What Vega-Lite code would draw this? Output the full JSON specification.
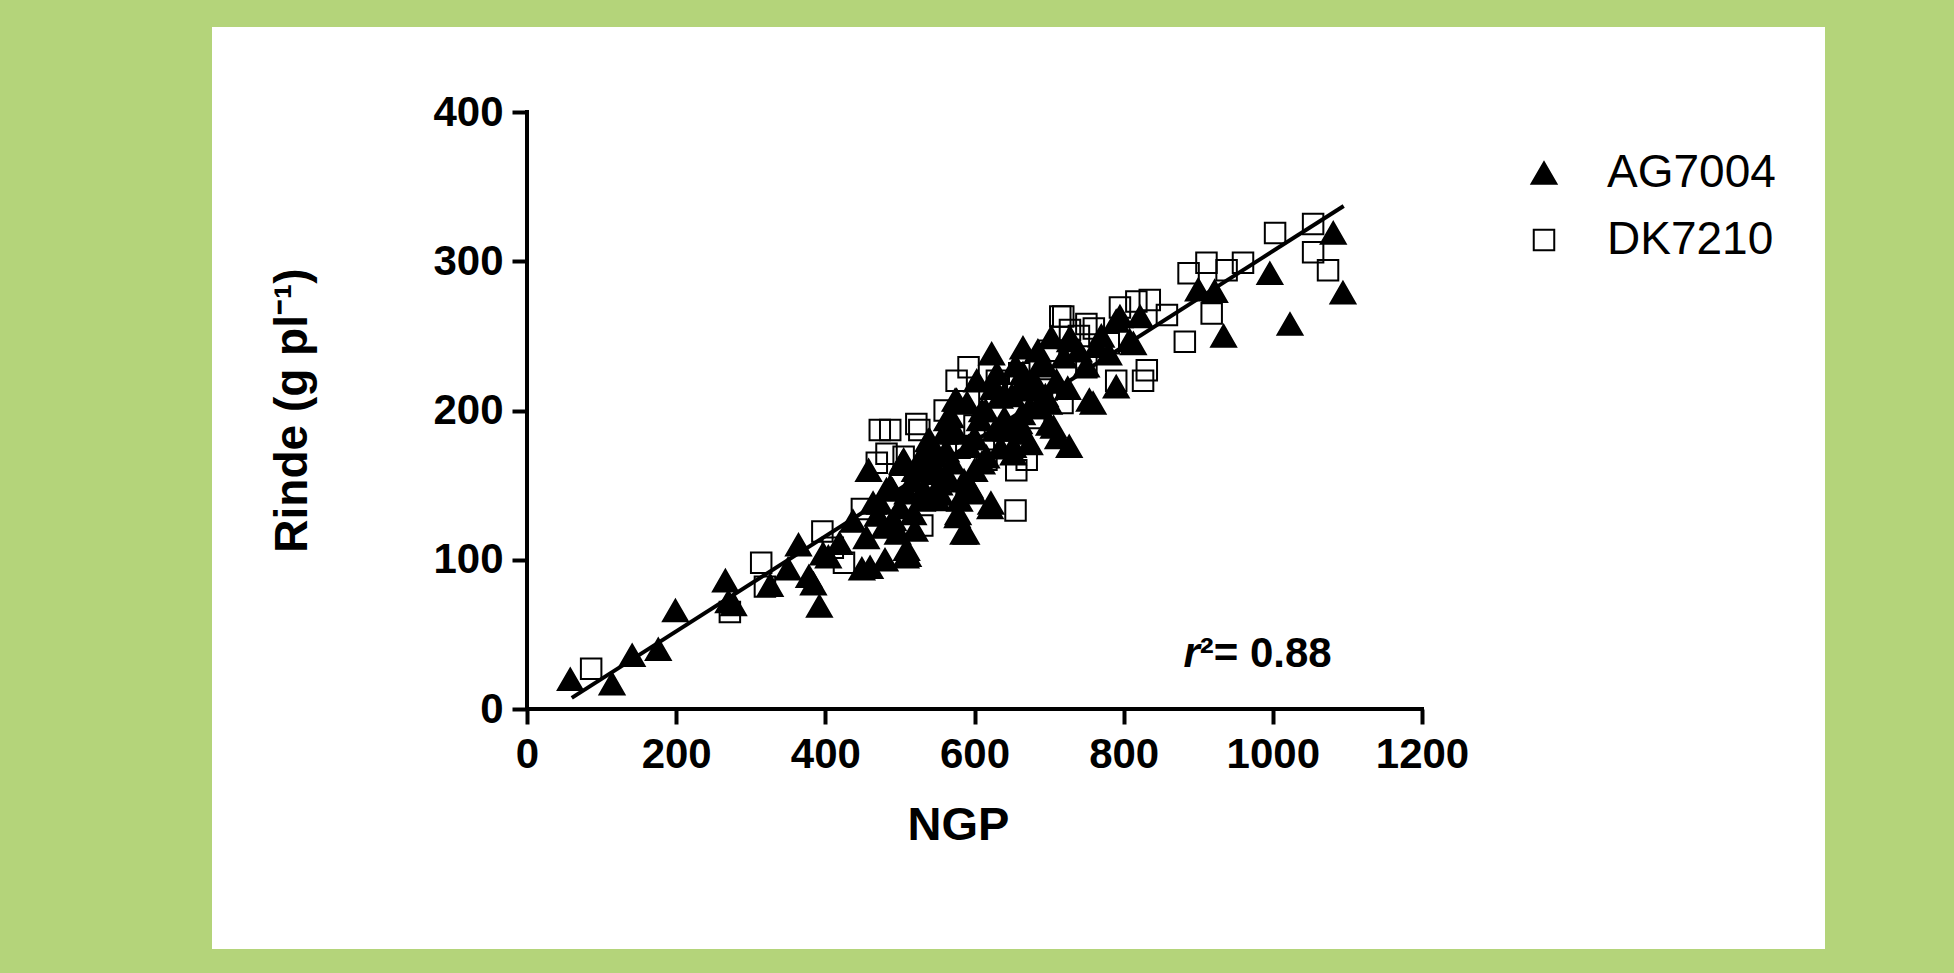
{
  "$schema": "https://vega.github.io/schema/vega-lite/v6.json",
  "width": 1613,
  "height": 922,
  "autosize": {"type": "none"},
  "padding": {"left": 212, "top": 27, "right": 129, "bottom": 24},
  "background": "#b4d47a",
  "config": {
    "view": {"fill": "white", "stroke": null},
    "font": "Liberation Sans",
    "legend": {"title": null, "orient": "none", "legendX": 1309, "legendY": 123,
               "labelFont": "Liberation Sans", "labelFontSize": 46, "labelColor": "black", "labelLimit": 0,
               "labelOffset": 40, "rowPadding": 21, "symbolStrokeWidth": 2}
  },
  "datasets": {
    "pts": [
      {"Hibrido":"DK7210","NGP":86,"Rinde":27},{"Hibrido":"DK7210","NGP":272,"Rinde":65},{"Hibrido":"DK7210","NGP":314,"Rinde":98},{"Hibrido":"DK7210","NGP":319,"Rinde":82},{"Hibrido":"DK7210","NGP":396,"Rinde":119},{"Hibrido":"DK7210","NGP":410,"Rinde":108},{"Hibrido":"DK7210","NGP":425,"Rinde":98},{"Hibrido":"DK7210","NGP":449,"Rinde":134},{"Hibrido":"DK7210","NGP":469,"Rinde":165},{"Hibrido":"DK7210","NGP":473,"Rinde":187},{"Hibrido":"DK7210","NGP":482,"Rinde":171},{"Hibrido":"DK7210","NGP":487,"Rinde":187},{"Hibrido":"DK7210","NGP":505,"Rinde":169},{"Hibrido":"DK7210","NGP":522,"Rinde":191},{"Hibrido":"DK7210","NGP":526,"Rinde":187},{"Hibrido":"DK7210","NGP":530,"Rinde":123},{"Hibrido":"DK7210","NGP":538,"Rinde":147},{"Hibrido":"DK7210","NGP":562,"Rinde":140},{"Hibrido":"DK7210","NGP":576,"Rinde":220},{"Hibrido":"DK7210","NGP":589,"Rinde":176},{"Hibrido":"DK7210","NGP":592,"Rinde":229},{"Hibrido":"DK7210","NGP":616,"Rinde":167},{"Hibrido":"DK7210","NGP":630,"Rinde":220},{"Hibrido":"DK7210","NGP":655,"Rinde":133},{"Hibrido":"DK7210","NGP":656,"Rinde":160},{"Hibrido":"DK7210","NGP":670,"Rinde":167},{"Hibrido":"DK7210","NGP":697,"Rinde":214},{"Hibrido":"DK7210","NGP":715,"Rinde":263},{"Hibrido":"DK7210","NGP":718,"Rinde":205},{"Hibrido":"DK7210","NGP":728,"Rinde":254},{"Hibrido":"DK7210","NGP":750,"Rinde":258},{"Hibrido":"DK7210","NGP":750,"Rinde":229},{"Hibrido":"DK7210","NGP":790,"Rinde":220},{"Hibrido":"DK7210","NGP":795,"Rinde":269},{"Hibrido":"DK7210","NGP":817,"Rinde":273},{"Hibrido":"DK7210","NGP":826,"Rinde":220},{"Hibrido":"DK7210","NGP":831,"Rinde":227},{"Hibrido":"DK7210","NGP":835,"Rinde":274},{"Hibrido":"DK7210","NGP":858,"Rinde":264},{"Hibrido":"DK7210","NGP":882,"Rinde":246},{"Hibrido":"DK7210","NGP":887,"Rinde":292},{"Hibrido":"DK7210","NGP":911,"Rinde":299},{"Hibrido":"DK7210","NGP":918,"Rinde":265},{"Hibrido":"DK7210","NGP":938,"Rinde":294},{"Hibrido":"DK7210","NGP":960,"Rinde":299},{"Hibrido":"DK7210","NGP":1003,"Rinde":319},{"Hibrido":"DK7210","NGP":1054,"Rinde":325},{"Hibrido":"DK7210","NGP":1054,"Rinde":306},{"Hibrido":"DK7210","NGP":1074,"Rinde":294},{"Hibrido":"DK7210","NGP":719,"Rinde":263},{"Hibrido":"DK7210","NGP":740,"Rinde":250},{"Hibrido":"DK7210","NGP":760,"Rinde":255},{"Hibrido":"DK7210","NGP":780,"Rinde":245},{"Hibrido":"DK7210","NGP":560,"Rinde":200},{"Hibrido":"DK7210","NGP":600,"Rinde":190},{"Hibrido":"DK7210","NGP":640,"Rinde":180},{"Hibrido":"DK7210","NGP":680,"Rinde":195},{"Hibrido":"DK7210","NGP":620,"Rinde":210},{"Hibrido":"DK7210","NGP":660,"Rinde":225},{"Hibrido":"DK7210","NGP":700,"Rinde":240},{"Hibrido":"DK7210","NGP":580,"Rinde":175},{"Hibrido":"DK7210","NGP":540,"Rinde":160},{"Hibrido":"DK7210","NGP":500,"Rinde":150},
      {"Hibrido":"AG7004","NGP":58,"Rinde":20},{"Hibrido":"AG7004","NGP":114,"Rinde":17},{"Hibrido":"AG7004","NGP":141,"Rinde":36},{"Hibrido":"AG7004","NGP":176,"Rinde":40},{"Hibrido":"AG7004","NGP":199,"Rinde":66},{"Hibrido":"AG7004","NGP":266,"Rinde":86},{"Hibrido":"AG7004","NGP":270,"Rinde":72},{"Hibrido":"AG7004","NGP":277,"Rinde":70},{"Hibrido":"AG7004","NGP":326,"Rinde":83},{"Hibrido":"AG7004","NGP":350,"Rinde":94},{"Hibrido":"AG7004","NGP":364,"Rinde":110},{"Hibrido":"AG7004","NGP":378,"Rinde":89},{"Hibrido":"AG7004","NGP":384,"Rinde":84},{"Hibrido":"AG7004","NGP":392,"Rinde":69},{"Hibrido":"AG7004","NGP":397,"Rinde":104},{"Hibrido":"AG7004","NGP":404,"Rinde":102},{"Hibrido":"AG7004","NGP":419,"Rinde":111},{"Hibrido":"AG7004","NGP":437,"Rinde":126},{"Hibrido":"AG7004","NGP":449,"Rinde":94},{"Hibrido":"AG7004","NGP":460,"Rinde":95},{"Hibrido":"AG7004","NGP":458,"Rinde":160},{"Hibrido":"AG7004","NGP":464,"Rinde":138},{"Hibrido":"AG7004","NGP":473,"Rinde":138},{"Hibrido":"AG7004","NGP":479,"Rinde":122},{"Hibrido":"AG7004","NGP":482,"Rinde":147},{"Hibrido":"AG7004","NGP":490,"Rinde":147},{"Hibrido":"AG7004","NGP":491,"Rinde":124},{"Hibrido":"AG7004","NGP":497,"Rinde":118},{"Hibrido":"AG7004","NGP":487,"Rinde":149},{"Hibrido":"AG7004","NGP":491,"Rinde":127},{"Hibrido":"AG7004","NGP":503,"Rinde":165},{"Hibrido":"AG7004","NGP":505,"Rinde":167},{"Hibrido":"AG7004","NGP":508,"Rinde":102},{"Hibrido":"AG7004","NGP":509,"Rinde":107},{"Hibrido":"AG7004","NGP":511,"Rinde":103},{"Hibrido":"AG7004","NGP":517,"Rinde":153},{"Hibrido":"AG7004","NGP":518,"Rinde":131},{"Hibrido":"AG7004","NGP":531,"Rinde":171},{"Hibrido":"AG7004","NGP":532,"Rinde":147},{"Hibrido":"AG7004","NGP":538,"Rinde":180},{"Hibrido":"AG7004","NGP":540,"Rinde":180},{"Hibrido":"AG7004","NGP":547,"Rinde":162},{"Hibrido":"AG7004","NGP":549,"Rinde":141},{"Hibrido":"AG7004","NGP":549,"Rinde":158},{"Hibrido":"AG7004","NGP":553,"Rinde":151},{"Hibrido":"AG7004","NGP":554,"Rinde":144},{"Hibrido":"AG7004","NGP":562,"Rinde":173},{"Hibrido":"AG7004","NGP":563,"Rinde":194},{"Hibrido":"AG7004","NGP":568,"Rinde":196},{"Hibrido":"AG7004","NGP":574,"Rinde":207},{"Hibrido":"AG7004","NGP":576,"Rinde":207},{"Hibrido":"AG7004","NGP":577,"Rinde":129},{"Hibrido":"AG7004","NGP":578,"Rinde":131},{"Hibrido":"AG7004","NGP":585,"Rinde":118},{"Hibrido":"AG7004","NGP":586,"Rinde":153},{"Hibrido":"AG7004","NGP":589,"Rinde":118},{"Hibrido":"AG7004","NGP":592,"Rinde":176},{"Hibrido":"AG7004","NGP":594,"Rinde":149},{"Hibrido":"AG7004","NGP":598,"Rinde":145},{"Hibrido":"AG7004","NGP":603,"Rinde":220},{"Hibrido":"AG7004","NGP":607,"Rinde":194},{"Hibrido":"AG7004","NGP":610,"Rinde":200},{"Hibrido":"AG7004","NGP":616,"Rinde":169},{"Hibrido":"AG7004","NGP":621,"Rinde":135},{"Hibrido":"AG7004","NGP":622,"Rinde":138},{"Hibrido":"AG7004","NGP":623,"Rinde":238},{"Hibrido":"AG7004","NGP":628,"Rinde":187},{"Hibrido":"AG7004","NGP":634,"Rinde":209},{"Hibrido":"AG7004","NGP":640,"Rinde":211},{"Hibrido":"AG7004","NGP":643,"Rinde":187},{"Hibrido":"AG7004","NGP":652,"Rinde":176},{"Hibrido":"AG7004","NGP":652,"Rinde":171},{"Hibrido":"AG7004","NGP":664,"Rinde":198},{"Hibrido":"AG7004","NGP":665,"Rinde":242},{"Hibrido":"AG7004","NGP":665,"Rinde":225},{"Hibrido":"AG7004","NGP":674,"Rinde":178},{"Hibrido":"AG7004","NGP":674,"Rinde":202},{"Hibrido":"AG7004","NGP":676,"Rinde":214},{"Hibrido":"AG7004","NGP":688,"Rinde":202},{"Hibrido":"AG7004","NGP":700,"Rinde":191},{"Hibrido":"AG7004","NGP":703,"Rinde":249},{"Hibrido":"AG7004","NGP":706,"Rinde":189},{"Hibrido":"AG7004","NGP":712,"Rinde":182},{"Hibrido":"AG7004","NGP":727,"Rinde":176},{"Hibrido":"AG7004","NGP":728,"Rinde":249},{"Hibrido":"AG7004","NGP":728,"Rinde":247},{"Hibrido":"AG7004","NGP":754,"Rinde":207},{"Hibrido":"AG7004","NGP":759,"Rinde":205},{"Hibrido":"AG7004","NGP":764,"Rinde":243},{"Hibrido":"AG7004","NGP":790,"Rinde":260},{"Hibrido":"AG7004","NGP":790,"Rinde":216},{"Hibrido":"AG7004","NGP":795,"Rinde":263},{"Hibrido":"AG7004","NGP":808,"Rinde":247},{"Hibrido":"AG7004","NGP":813,"Rinde":245},{"Hibrido":"AG7004","NGP":822,"Rinde":263},{"Hibrido":"AG7004","NGP":900,"Rinde":281},{"Hibrido":"AG7004","NGP":922,"Rinde":280},{"Hibrido":"AG7004","NGP":934,"Rinde":250},{"Hibrido":"AG7004","NGP":996,"Rinde":292},{"Hibrido":"AG7004","NGP":1023,"Rinde":258},{"Hibrido":"AG7004","NGP":1081,"Rinde":319},{"Hibrido":"AG7004","NGP":1094,"Rinde":279},
      {"Hibrido":"AG7004","NGP":545,"Rinde":170},{"Hibrido":"AG7004","NGP":560,"Rinde":185},{"Hibrido":"AG7004","NGP":600,"Rinde":182},{"Hibrido":"AG7004","NGP":615,"Rinde":200},{"Hibrido":"AG7004","NGP":650,"Rinde":210},{"Hibrido":"AG7004","NGP":680,"Rinde":220},{"Hibrido":"AG7004","NGP":695,"Rinde":230},{"Hibrido":"AG7004","NGP":520,"Rinde":160},{"Hibrido":"AG7004","NGP":660,"Rinde":192},{"Hibrido":"AG7004","NGP":690,"Rinde":232},{"Hibrido":"AG7004","NGP":720,"Rinde":236},{"Hibrido":"AG7004","NGP":740,"Rinde":240},{"Hibrido":"AG7004","NGP":770,"Rinde":250},{"Hibrido":"AG7004","NGP":780,"Rinde":238},{"Hibrido":"AG7004","NGP":630,"Rinde":225},{"Hibrido":"AG7004","NGP":610,"Rinde":165},{"Hibrido":"AG7004","NGP":570,"Rinde":165},{"Hibrido":"AG7004","NGP":530,"Rinde":140},{"Hibrido":"AG7004","NGP":500,"Rinde":135},{"Hibrido":"AG7004","NGP":470,"Rinde":130},{"Hibrido":"AG7004","NGP":455,"Rinde":115},{"Hibrido":"AG7004","NGP":480,"Rinde":100},{"Hibrido":"AG7004","NGP":520,"Rinde":120},{"Hibrido":"AG7004","NGP":580,"Rinde":140},{"Hibrido":"AG7004","NGP":640,"Rinde":195},{"Hibrido":"AG7004","NGP":700,"Rinde":205},{"Hibrido":"AG7004","NGP":750,"Rinde":230},{"Hibrido":"AG7004","NGP":600,"Rinde":160},{"Hibrido":"AG7004","NGP":660,"Rinde":215},{"Hibrido":"AG7004","NGP":710,"Rinde":220},
      {"Hibrido":"AG7004","NGP":590,"Rinde":205},{"Hibrido":"AG7004","NGP":625,"Rinde":215},{"Hibrido":"AG7004","NGP":655,"Rinde":230},{"Hibrido":"AG7004","NGP":685,"Rinde":240},{"Hibrido":"AG7004","NGP":575,"Rinde":185},{"Hibrido":"AG7004","NGP":635,"Rinde":175},{"Hibrido":"AG7004","NGP":665,"Rinde":185},{"Hibrido":"AG7004","NGP":695,"Rinde":210},{"Hibrido":"AG7004","NGP":725,"Rinde":215},{"Hibrido":"AG7004","NGP":565,"Rinde":155},{"Hibrido":"AG7004","NGP":535,"Rinde":165},{"Hibrido":"AG7004","NGP":510,"Rinde":145}
    ],
    "fit": [{"NGP": 60, "Rinde": 7.5}, {"NGP": 1095, "Rinde": 337}],
    "one": [{}]
  },
  "layer": [
    {
      "data": {"name": "pts"},
      "mark": {"type": "point", "strokeWidth": 2, "opacity": 1},
      "encoding": {
        "x": {"field": "NGP", "type": "quantitative",
              "scale": {"domain": [-422.35, 1740.33], "nice": false, "zero": false},
              "axis": {"orient": "bottom", "offset": -240, "values": [0, 200, 400, 600, 800, 1000, 1200], "format": "d",
                       "domain": false, "grid": false, "tickColor": "black", "tickWidth": 4, "tickSize": 15,
                       "labelFont": "Liberation Sans", "labelFontWeight": "bold", "labelFontSize": 42, "labelColor": "black",
                       "labelPadding": 10, "labelFlush": false, "labelOverlap": false,
                       "title": "NGP", "titleFont": "Liberation Sans", "titleFontWeight": "bold", "titleFontSize": 47, "titleColor": "black",
                       "titleX": 746, "titleY": 130, "titleBaseline": "alphabetic", "titleAlign": "center", "titleAnchor": null}},
        "y": {"field": "Rinde", "type": "quantitative",
              "scale": {"domain": [-160.8, 456.96], "nice": false, "zero": false},
              "axis": {"orient": "left", "offset": -315, "values": [0, 100, 200, 300, 400], "format": "d",
                       "domain": false, "grid": false, "tickColor": "black", "tickWidth": 4, "tickSize": 15,
                       "labelFont": "Liberation Sans", "labelFontWeight": "bold", "labelFontSize": 42, "labelColor": "black",
                       "labelPadding": 9, "labelFlush": false, "labelOverlap": false,
                       "title": "Rinde (g pl⁻¹)", "titleFont": "Liberation Sans", "titleFontWeight": "bold", "titleFontSize": 46, "titleColor": "black",
                       "titleX": -221, "titleY": 383, "titleAngle": -90, "titleBaseline": "alphabetic", "titleAlign": "center"}},
        "size": {"field": "Hibrido", "type": "nominal",
                 "scale": {"domain": ["AG7004", "DK7210"], "range": [620, 420]}},
        "shape": {"field": "Hibrido", "type": "nominal",
                  "scale": {"domain": ["AG7004", "DK7210"], "range": ["triangle-up", "square"]}},
        "fill": {"field": "Hibrido", "type": "nominal",
                 "scale": {"domain": ["AG7004", "DK7210"], "range": ["black", "transparent"]}},
        "stroke": {"field": "Hibrido", "type": "nominal",
                   "scale": {"domain": ["AG7004", "DK7210"], "range": ["black", "black"]}}
      }
    },
    {
      "data": {"name": "fit"},
      "mark": {"type": "line", "color": "black", "strokeWidth": 4},
      "encoding": {
        "x": {"field": "NGP", "type": "quantitative"},
        "y": {"field": "Rinde", "type": "quantitative"}
      }
    },
    {
      "data": {"name": "one"},
      "mark": {"type": "rule", "color": "black", "strokeWidth": 4, "strokeCap": "square"},
      "encoding": {"x": {"datum": 0}, "x2": {"datum": 1200}, "y": {"datum": 0}}
    },
    {
      "data": {"name": "one"},
      "mark": {"type": "rule", "color": "black", "strokeWidth": 4, "strokeCap": "square"},
      "encoding": {"x": {"datum": 0}, "y": {"datum": 0}, "y2": {"datum": 400}}
    },
    {
      "data": {"name": "one"},
      "mark": {"type": "text", "text": "r", "align": "right", "baseline": "alphabetic", "font": "Liberation Sans",
               "fontSize": 42, "fontWeight": "bold", "fontStyle": "italic", "color": "black"},
      "encoding": {"x": {"datum": 902}, "y": {"datum": 28}}
    },
    {
      "data": {"name": "one"},
      "mark": {"type": "text", "text": "²= 0.88", "align": "left", "baseline": "alphabetic", "font": "Liberation Sans",
               "fontSize": 42, "fontWeight": "bold", "color": "black"},
      "encoding": {"x": {"datum": 902}, "y": {"datum": 28}}
    }
  ]
}
